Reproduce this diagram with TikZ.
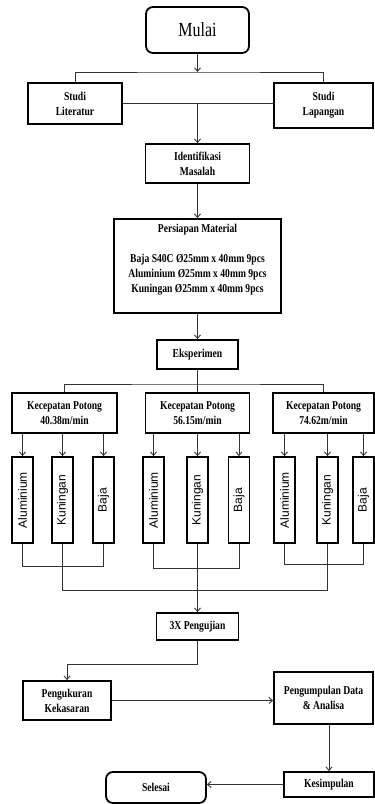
\documentclass[tikz,border=0pt]{standalone}
\usepackage{fontspec}
\setmainfont[FakeStretch=0.8]{Liberation Serif}
\newfontfamily\barfont{Liberation Sans}
\usetikzlibrary{calc,positioning,arrows.meta}
\tikzset{>={Straight Barb[length=3.5pt,width=6pt]}}

\begin{document}
\begin{tikzpicture}[x=1pt,y=-1pt,line width=0.9pt,draw=black!80,
    box/.style={draw=black,line width=1.8pt,align=center,inner sep=0pt,
      font=\fontsize{12}{15}\selectfont\bfseries},
    term/.style={box,rounded corners=7pt},
    bar/.style={draw=black,line width=1.8pt,inner sep=0pt,minimum width=21pt,
      minimum height=86pt,font=\barfont\fontsize{12}{14}\selectfont}]
    \useasboundingbox (0,0) rectangle (375,804);

    \node[term,minimum width=103pt,minimum height=46pt,font=\fontsize{20}{24}\selectfont] (mulai) at (197.5,30) {Mulai};
    \node[box,minimum width=94pt,minimum height=41pt] (literatur) at (75,103.5) {Studi\\Literatur};
    \node[box,minimum width=99pt,minimum height=45pt] (lapangan) at (323.5,105.5) {Studi\\Lapangan};
    \node[box,minimum width=104pt,minimum height=39pt] (identifikasi) at (197.5,163.5) {Identifikasi\\Masalah};
    \node[box,minimum width=167pt,minimum height=94pt] (persiapan) at (197.5,266) {Persiapan Material\\[15pt]Baja S40C Ø25mm x 40mm 9pcs\\Aluminium Ø25mm x 40mm 9pcs\\Kuningan Ø25mm x 40mm 9pcs\\\mbox{}};
    \node[box,minimum width=81pt,minimum height=29pt] (eksperimen) at (197.5,354.5) {Eksperimen};

    \node[box,minimum width=105pt,minimum height=40pt] (kec1) at (64.5,413) {Kecepatan Potong\\40.38m/min};
    \node[box,minimum width=104pt,minimum height=40pt] (kec2) at (197.5,413) {Kecepatan Potong\\56.15m/min};
    \node[box,minimum width=101pt,minimum height=40pt] (kec3) at (323.5,413) {Kecepatan Potong\\74.62m/min};

    \node[bar] (al1) at (22.5,500) {\rotatebox{90}{Aluminium}};
    \node[bar] (kun1) at (62.5,500) {\rotatebox{90}{Kuningan}};
    \node[bar] (baja1) at (103.5,500) {\rotatebox{90}{Baja}};
    \node[bar] (al2) at (153.5,500) {\rotatebox{90}{Aluminium}};
    \node[bar] (kun2) at (197.5,500) {\rotatebox{90}{Kuningan}};
    \node[bar] (baja2) at (239,500) {\rotatebox{90}{Baja}};
    \node[bar] (al3) at (284.5,500) {\rotatebox{90}{Aluminium}};
    \node[bar] (kun3) at (327.5,500) {\rotatebox{90}{Kuningan}};
    \node[bar] (baja3) at (363.5,500) {\rotatebox{90}{Baja}};

    \node[box,minimum width=82pt,minimum height=27pt] (uji) at (197.5,626.5) {3X Pengujian};
    \node[box,minimum width=88pt,minimum height=39pt] (ukur) at (67,700.5) {Pengukuran\\Kekasaran};
    \node[box,minimum width=99pt,minimum height=52pt] (kumpul) at (323.5,698) {Pengumpulan Data\\\& Analisa};
    \node[box,minimum width=90pt,minimum height=25pt] (simpul) at (329,784.5) {Kesimpulan};
    \node[term,minimum width=100pt,minimum height=31pt] (selesai) at (156,787.5) {Selesai};

    \coordinate (pisah) at (197.5,72);
    \coordinate (cabang) at (197.5,384);

    \draw[->] (mulai.south) -- (pisah);
    \draw (literatur.north) |- (pisah) -| (lapangan.north);
    \draw (literatur.east) -- (literatur.east -| lapangan.west);
    \draw[->] (literatur.east -| identifikasi) -- (identifikasi.north);
    \draw[->] (identifikasi.south) -- (persiapan.north);
    \draw[->] (persiapan.south) -- (eksperimen.north);
    \draw (eksperimen.south) -- (cabang) -- (kec2.north);
    \draw (kec1.north) |- (cabang) -| (kec3.north);

    \draw
     (al1 |- kec1.south)   edge[->] (al1)
     (kun1 |- kec1.south)  edge[->] (kun1)
     (baja1 |- kec1.south) edge[->] (baja1)
     (al2 |- kec2.south)   edge[->] (al2)
     (kun2 |- kec2.south)  edge[->] (kun2)
     (baja2 |- kec2.south) edge[->] (baja2)
     (al3 |- kec3.south)   edge[->] (al3)
     (kun3 |- kec3.south)  edge[->] (kun3)
     (baja3 |- kec3.south) edge[->] (baja3);

    \draw (al1.south) -- ++(0,23) -| (baja1.south);
    \draw (al2.south) -- ++(0,25) -| (baja2.south);
    \draw (al3.south) -- ++(0,21) -| (baja3.south);
    \draw (kun1.south) -- ++(0,47) -| (kun3.south);
    \draw[->] (kun2.south) -- (uji.north);

    \draw[->] (uji.south) -- ++(0,24) -| (ukur.north);
    \draw[->] (ukur.east) -- (ukur.east -| kumpul.west);
    \draw[->] (kumpul.south -| simpul) -- (simpul.north);
    \draw[->] (simpul.west) -- (simpul.west -| selesai.east);
\end{tikzpicture}
\end{document}
